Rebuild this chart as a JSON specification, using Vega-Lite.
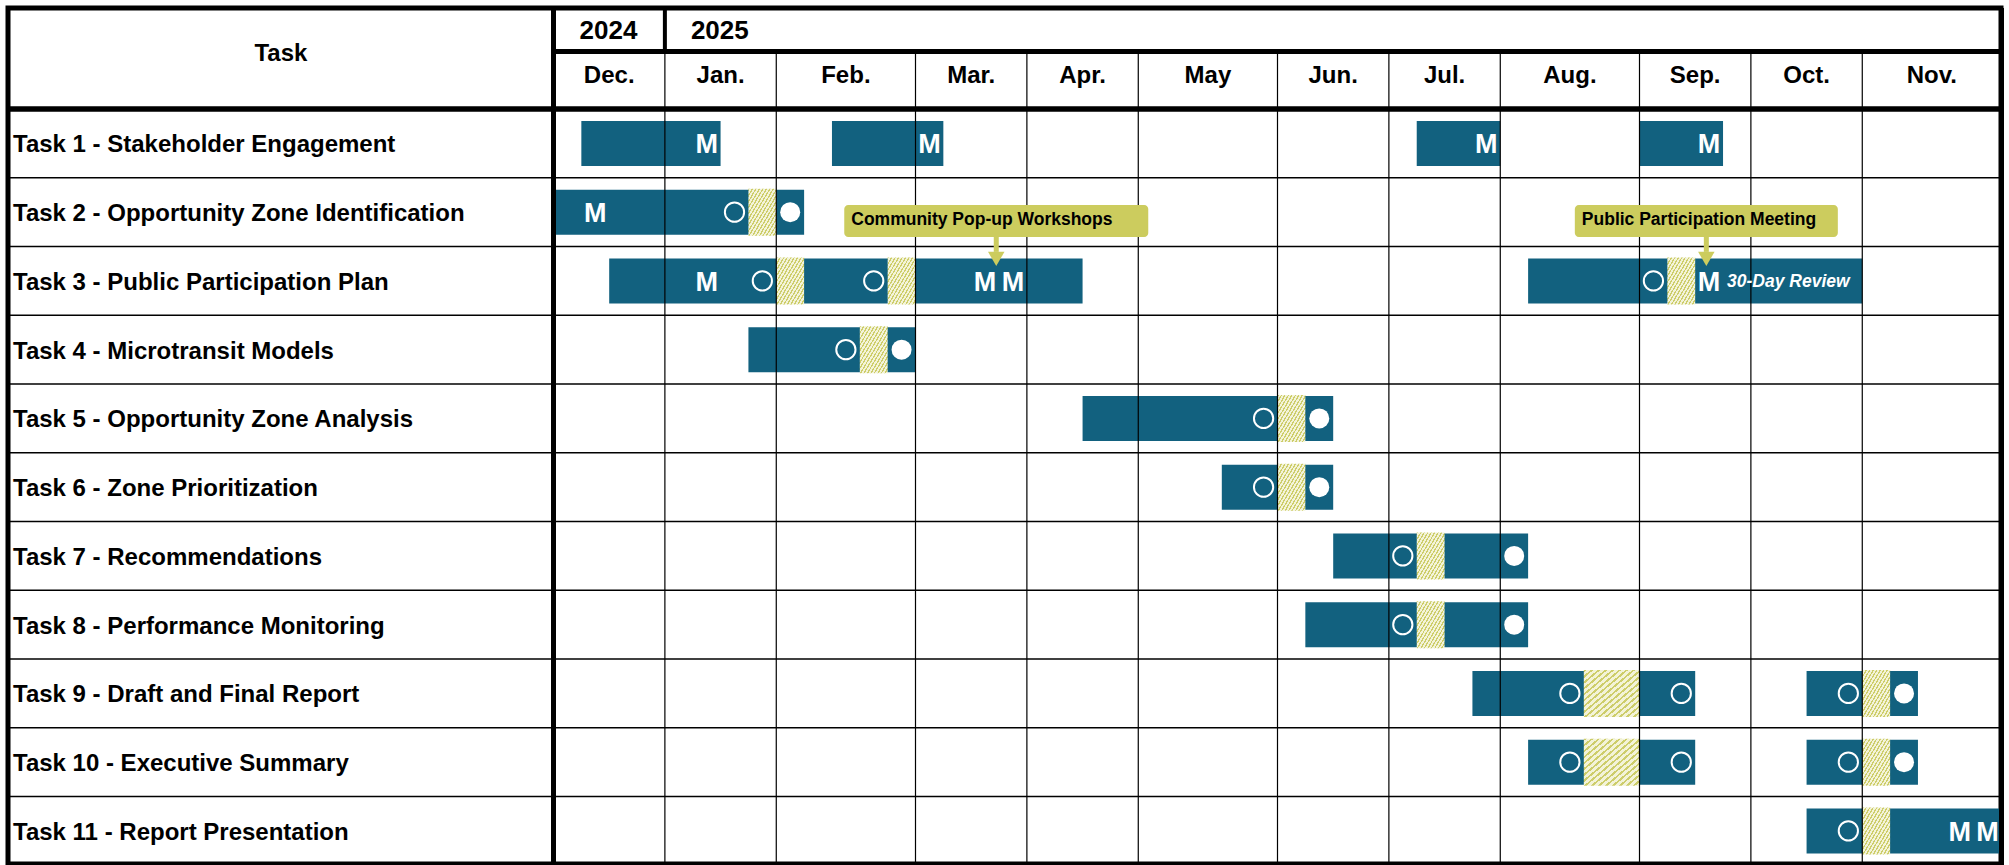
{
  "$schema": "https://vega.github.io/schema/vega-lite/v6.json",
  "width": 1993,
  "height": 856,
  "autosize": {"type": "none"},
  "padding": {"left": 8, "top": 8, "right": 8, "bottom": 1},
  "background": "white",
  "config": {
    "view": {"stroke": "#000000", "strokeWidth": 5, "fill": "white"},
    "text": {"font": "Liberation Sans, Arial, sans-serif"}
  },
  "datasets": {
    "tasks": [
      {"i": 1, "task": "Task 1 - Stakeholder Engagement"},
      {"i": 2, "task": "Task 2 - Opportunity Zone Identification"},
      {"i": 3, "task": "Task 3 - Public Participation Plan"},
      {"i": 4, "task": "Task 4 - Microtransit Models"},
      {"i": 5, "task": "Task 5 - Opportunity Zone Analysis"},
      {"i": 6, "task": "Task 6 - Zone Prioritization"},
      {"i": 7, "task": "Task 7 - Recommendations"},
      {"i": 8, "task": "Task 8 - Performance Monitoring"},
      {"i": 9, "task": "Task 9 - Draft and Final Report"},
      {"i": 10, "task": "Task 10 - Executive Summary"},
      {"i": 11, "task": "Task 11 - Report Presentation"}
    ],
    "bars": [
      {"i": 1, "start": 1, "end": 6}, {"i": 1, "start": 10, "end": 14}, {"i": 1, "start": 31, "end": 34}, {"i": 1, "start": 39, "end": 42},
      {"i": 2, "start": 0, "end": 9},
      {"i": 3, "start": 2, "end": 19}, {"i": 3, "start": 35, "end": 47},
      {"i": 4, "start": 7, "end": 13},
      {"i": 5, "start": 19, "end": 28},
      {"i": 6, "start": 24, "end": 28},
      {"i": 7, "start": 28, "end": 35},
      {"i": 8, "start": 27, "end": 35},
      {"i": 9, "start": 33, "end": 41}, {"i": 9, "start": 45, "end": 49},
      {"i": 10, "start": 35, "end": 41}, {"i": 10, "start": 45, "end": 49},
      {"i": 11, "start": 45, "end": 52}
    ],
    "reviews": [
      {"i": 2, "start": 7, "end": 8},
      {"i": 3, "start": 8, "end": 9}, {"i": 3, "start": 12, "end": 13}, {"i": 3, "start": 40, "end": 41},
      {"i": 4, "start": 11, "end": 12},
      {"i": 5, "start": 26, "end": 27},
      {"i": 6, "start": 26, "end": 27},
      {"i": 7, "start": 31, "end": 32},
      {"i": 8, "start": 31, "end": 32},
      {"i": 9, "start": 37, "end": 39}, {"i": 9, "start": 47, "end": 48},
      {"i": 10, "start": 37, "end": 39}, {"i": 10, "start": 47, "end": 48},
      {"i": 11, "start": 47, "end": 48}
    ],
    "milestones": [
      {"i": 1, "week": 5.5, "kind": "M"}, {"i": 1, "week": 13.5, "kind": "M"}, {"i": 1, "week": 33.5, "kind": "M"}, {"i": 1, "week": 41.5, "kind": "M"},
      {"i": 2, "week": 1.5, "kind": "M"}, {"i": 2, "week": 6.5, "kind": "draft"}, {"i": 2, "week": 8.5, "kind": "final"},
      {"i": 3, "week": 5.5, "kind": "M"}, {"i": 3, "week": 7.5, "kind": "draft"}, {"i": 3, "week": 11.5, "kind": "draft"}, {"i": 3, "week": 15.5, "kind": "M"}, {"i": 3, "week": 16.5, "kind": "M"}, {"i": 3, "week": 39.5, "kind": "draft"}, {"i": 3, "week": 41.5, "kind": "M"},
      {"i": 4, "week": 10.5, "kind": "draft"}, {"i": 4, "week": 12.5, "kind": "final"},
      {"i": 5, "week": 25.5, "kind": "draft"}, {"i": 5, "week": 27.5, "kind": "final"},
      {"i": 6, "week": 25.5, "kind": "draft"}, {"i": 6, "week": 27.5, "kind": "final"},
      {"i": 7, "week": 30.5, "kind": "draft"}, {"i": 7, "week": 34.5, "kind": "final"},
      {"i": 8, "week": 30.5, "kind": "draft"}, {"i": 8, "week": 34.5, "kind": "final"},
      {"i": 9, "week": 36.5, "kind": "draft"}, {"i": 9, "week": 40.5, "kind": "draft"}, {"i": 9, "week": 46.5, "kind": "draft"}, {"i": 9, "week": 48.5, "kind": "final"},
      {"i": 10, "week": 36.5, "kind": "draft"}, {"i": 10, "week": 40.5, "kind": "draft"}, {"i": 10, "week": 46.5, "kind": "draft"}, {"i": 10, "week": 48.5, "kind": "final"},
      {"i": 11, "week": 46.5, "kind": "draft"}, {"i": 11, "week": 50.5, "kind": "M"}, {"i": 11, "week": 51.5, "kind": "M"}
    ],
    "notes": [{"i": 3, "week": 42, "note": "30-Day Review"}],
    "callouts": [
      {"i": 3, "target": 15.9, "label": "Community Pop-up Workshops"},
      {"i": 3, "target": 41.4, "label": "Public Participation Meeting"}
    ],
    "months": [
      {"month": "Dec.", "start": 0, "mid": 2},
      {"month": "Jan.", "start": 4, "mid": 6},
      {"month": "Feb.", "start": 8, "mid": 10.5},
      {"month": "Mar.", "start": 13, "mid": 15},
      {"month": "Apr.", "start": 17, "mid": 19},
      {"month": "May", "start": 21, "mid": 23.5},
      {"month": "Jun.", "start": 26, "mid": 28},
      {"month": "Jul.", "start": 30, "mid": 32},
      {"month": "Aug.", "start": 34, "mid": 36.5},
      {"month": "Sep.", "start": 39, "mid": 41},
      {"month": "Oct.", "start": 43, "mid": 45},
      {"month": "Nov.", "start": 47, "mid": 49.5}
    ],
    "years": [{"year": "2024", "start": 0}, {"year": "2025", "start": 4}],
    "header": [{"header": "Task"}],
    "edges": [{"edge": "task column", "week": 0}, {"edge": "right", "week": 52}]
  },
  "layer": [
    {
      "data": {"name": "bars"},
      "mark": {"type": "rect", "color": "#12617F", "yOffset": -22.5, "y2Offset": 22.5},
      "encoding": {
        "x": {"field": "start", "type": "quantitative", "scale": {"domain": [0, 52], "range": [545.5, 1993.5], "nice": false, "zero": false}, "axis": null},
        "x2": {"field": "end"},
        "y": {"field": "i", "type": "quantitative", "scale": {"domain": [0.5, 11.5], "range": [101, 857.25], "nice": false, "zero": false}, "axis": null},
        "y2": {"field": "i"}
      }
    },
    {
      "data": {"name": "reviews"},
      "mark": {
        "type": "rect",
        "yOffset": -23.5,
        "y2Offset": 23.5,
        "color": {
          "gradient": "linear", "x1": 0, "y1": 0, "x2": 1, "y2": 1,
          "stops": [
            {"offset": 0, "color": "#cdcd6a"}, {"offset": 0.025, "color": "#cdcd6a"}, {"offset": 0.025, "color": "#f3f3d8"}, {"offset": 0.0625, "color": "#f3f3d8"},
            {"offset": 0.0625, "color": "#cdcd6a"}, {"offset": 0.0875, "color": "#cdcd6a"}, {"offset": 0.0875, "color": "#f3f3d8"}, {"offset": 0.125, "color": "#f3f3d8"},
            {"offset": 0.125, "color": "#cdcd6a"}, {"offset": 0.15, "color": "#cdcd6a"}, {"offset": 0.15, "color": "#f3f3d8"}, {"offset": 0.1875, "color": "#f3f3d8"},
            {"offset": 0.1875, "color": "#cdcd6a"}, {"offset": 0.2125, "color": "#cdcd6a"}, {"offset": 0.2125, "color": "#f3f3d8"}, {"offset": 0.25, "color": "#f3f3d8"},
            {"offset": 0.25, "color": "#cdcd6a"}, {"offset": 0.275, "color": "#cdcd6a"}, {"offset": 0.275, "color": "#f3f3d8"}, {"offset": 0.3125, "color": "#f3f3d8"},
            {"offset": 0.3125, "color": "#cdcd6a"}, {"offset": 0.3375, "color": "#cdcd6a"}, {"offset": 0.3375, "color": "#f3f3d8"}, {"offset": 0.375, "color": "#f3f3d8"},
            {"offset": 0.375, "color": "#cdcd6a"}, {"offset": 0.4, "color": "#cdcd6a"}, {"offset": 0.4, "color": "#f3f3d8"}, {"offset": 0.4375, "color": "#f3f3d8"},
            {"offset": 0.4375, "color": "#cdcd6a"}, {"offset": 0.4625, "color": "#cdcd6a"}, {"offset": 0.4625, "color": "#f3f3d8"}, {"offset": 0.5, "color": "#f3f3d8"},
            {"offset": 0.5, "color": "#cdcd6a"}, {"offset": 0.525, "color": "#cdcd6a"}, {"offset": 0.525, "color": "#f3f3d8"}, {"offset": 0.5625, "color": "#f3f3d8"},
            {"offset": 0.5625, "color": "#cdcd6a"}, {"offset": 0.5875, "color": "#cdcd6a"}, {"offset": 0.5875, "color": "#f3f3d8"}, {"offset": 0.625, "color": "#f3f3d8"},
            {"offset": 0.625, "color": "#cdcd6a"}, {"offset": 0.65, "color": "#cdcd6a"}, {"offset": 0.65, "color": "#f3f3d8"}, {"offset": 0.6875, "color": "#f3f3d8"},
            {"offset": 0.6875, "color": "#cdcd6a"}, {"offset": 0.7125, "color": "#cdcd6a"}, {"offset": 0.7125, "color": "#f3f3d8"}, {"offset": 0.75, "color": "#f3f3d8"},
            {"offset": 0.75, "color": "#cdcd6a"}, {"offset": 0.775, "color": "#cdcd6a"}, {"offset": 0.775, "color": "#f3f3d8"}, {"offset": 0.8125, "color": "#f3f3d8"},
            {"offset": 0.8125, "color": "#cdcd6a"}, {"offset": 0.8375, "color": "#cdcd6a"}, {"offset": 0.8375, "color": "#f3f3d8"}, {"offset": 0.875, "color": "#f3f3d8"},
            {"offset": 0.875, "color": "#cdcd6a"}, {"offset": 0.9, "color": "#cdcd6a"}, {"offset": 0.9, "color": "#f3f3d8"}, {"offset": 0.9375, "color": "#f3f3d8"},
            {"offset": 0.9375, "color": "#cdcd6a"}, {"offset": 0.9625, "color": "#cdcd6a"}, {"offset": 0.9625, "color": "#f3f3d8"}, {"offset": 1, "color": "#f3f3d8"}
          ]
        }
      },
      "encoding": {
        "x": {"field": "start", "type": "quantitative", "scale": {"domain": [0, 52], "range": [545.5, 1993.5], "nice": false, "zero": false}, "axis": null},
        "x2": {"field": "end"},
        "y": {"field": "i", "type": "quantitative", "scale": {"domain": [0.5, 11.5], "range": [101, 857.25], "nice": false, "zero": false}, "axis": null},
        "y2": {"field": "i"}
      }
    },
    {
      "data": {"name": "months"},
      "transform": [{"filter": "datum.start > 0"}],
      "mark": {"type": "rule", "color": "#000000", "strokeWidth": 1.2},
      "encoding": {
        "x": {"field": "start", "type": "quantitative", "scale": {"domain": [0, 52], "range": [545.5, 1993.5], "nice": false, "zero": false}, "axis": null},
        "y": {"datum": -0.3364, "type": "quantitative", "scale": {"domain": [0.5, 11.5], "range": [101, 857.25], "nice": false, "zero": false}, "axis": null},
        "y2": {"datum": 11.5}
      }
    },
    {
      "data": {"name": "tasks"},
      "mark": {"type": "rule", "color": "#000000", "strokeWidth": 1.6, "yOffset": 34.375},
      "encoding": {
        "x": {"datum": -19.6, "type": "quantitative", "scale": {"domain": [0, 52], "range": [545.5, 1993.5], "nice": false, "zero": false}, "axis": null},
        "x2": {"datum": 52},
        "y": {"field": "i", "type": "quantitative", "scale": {"domain": [0.5, 11.5], "range": [101, 857.25], "nice": false, "zero": false}, "axis": null}
      }
    },
    {
      "data": {"name": "milestones"},
      "transform": [{"filter": "datum.kind === 'draft'"}],
      "mark": {"type": "point", "shape": "circle", "filled": false, "stroke": "white", "strokeWidth": 2, "size": 370, "opacity": 1},
      "encoding": {
        "x": {"field": "week", "type": "quantitative", "scale": {"domain": [0, 52], "range": [545.5, 1993.5], "nice": false, "zero": false}, "axis": null},
        "y": {"field": "i", "type": "quantitative", "scale": {"domain": [0.5, 11.5], "range": [101, 857.25], "nice": false, "zero": false}, "axis": null}
      }
    },
    {
      "data": {"name": "milestones"},
      "transform": [{"filter": "datum.kind === 'final'"}],
      "mark": {"type": "point", "shape": "circle", "filled": true, "color": "white", "size": 400, "opacity": 1},
      "encoding": {
        "x": {"field": "week", "type": "quantitative", "scale": {"domain": [0, 52], "range": [545.5, 1993.5], "nice": false, "zero": false}, "axis": null},
        "y": {"field": "i", "type": "quantitative", "scale": {"domain": [0.5, 11.5], "range": [101, 857.25], "nice": false, "zero": false}, "axis": null}
      }
    },
    {
      "data": {"name": "milestones"},
      "transform": [{"filter": "datum.kind === 'M'"}],
      "mark": {"type": "text", "color": "white", "fontSize": 27, "fontWeight": "bold", "align": "center", "baseline": "middle", "dy": 2},
      "encoding": {
        "x": {"field": "week", "type": "quantitative", "scale": {"domain": [0, 52], "range": [545.5, 1993.5], "nice": false, "zero": false}, "axis": null},
        "y": {"field": "i", "type": "quantitative", "scale": {"domain": [0.5, 11.5], "range": [101, 857.25], "nice": false, "zero": false}, "axis": null},
        "text": {"field": "kind"}
      }
    },
    {
      "data": {"name": "notes"},
      "mark": {"type": "text", "color": "white", "fontSize": 17.5, "fontWeight": "bold", "fontStyle": "italic", "align": "left", "baseline": "middle", "dx": 4, "dy": 1},
      "encoding": {
        "x": {"field": "week", "type": "quantitative", "scale": {"domain": [0, 52], "range": [545.5, 1993.5], "nice": false, "zero": false}, "axis": null},
        "y": {"field": "i", "type": "quantitative", "scale": {"domain": [0.5, 11.5], "range": [101, 857.25], "nice": false, "zero": false}, "axis": null},
        "text": {"field": "note"}
      }
    },
    {
      "data": {"name": "callouts"},
      "transform": [{"filter": "datum.label === 'Community Pop-up Workshops'"}],
      "mark": {"type": "rect", "color": "#CCCC5E", "cornerRadius": 4, "xOffset": -152, "x2Offset": 152, "yOffset": -76, "y2Offset": -44},
      "encoding": {
        "x": {"field": "target", "type": "quantitative", "scale": {"domain": [0, 52], "range": [545.5, 1993.5], "nice": false, "zero": false}, "axis": null},
        "x2": {"field": "target"},
        "y": {"field": "i", "type": "quantitative", "scale": {"domain": [0.5, 11.5], "range": [101, 857.25], "nice": false, "zero": false}, "axis": null},
        "y2": {"field": "i"}
      }
    },
    {
      "data": {"name": "callouts"},
      "transform": [{"filter": "datum.label === 'Public Participation Meeting'"}],
      "mark": {"type": "rect", "color": "#CCCC5E", "cornerRadius": 4, "xOffset": -131.5, "x2Offset": 131.5, "yOffset": -76, "y2Offset": -44},
      "encoding": {
        "x": {"field": "target", "type": "quantitative", "scale": {"domain": [0, 52], "range": [545.5, 1993.5], "nice": false, "zero": false}, "axis": null},
        "x2": {"field": "target"},
        "y": {"field": "i", "type": "quantitative", "scale": {"domain": [0.5, 11.5], "range": [101, 857.25], "nice": false, "zero": false}, "axis": null},
        "y2": {"field": "i"}
      }
    },
    {
      "data": {"name": "callouts"},
      "transform": [{"filter": "datum.label === 'Community Pop-up Workshops'"}],
      "mark": {"type": "text", "color": "#000000", "fontSize": 17.5, "fontWeight": "bold", "align": "left", "baseline": "middle", "dx": -145, "dy": -61},
      "encoding": {
        "x": {"field": "target", "type": "quantitative", "scale": {"domain": [0, 52], "range": [545.5, 1993.5], "nice": false, "zero": false}, "axis": null},
        "y": {"field": "i", "type": "quantitative", "scale": {"domain": [0.5, 11.5], "range": [101, 857.25], "nice": false, "zero": false}, "axis": null},
        "text": {"field": "label"}
      }
    },
    {
      "data": {"name": "callouts"},
      "transform": [{"filter": "datum.label === 'Public Participation Meeting'"}],
      "mark": {"type": "text", "color": "#000000", "fontSize": 17.5, "fontWeight": "bold", "align": "left", "baseline": "middle", "dx": -124.5, "dy": -61},
      "encoding": {
        "x": {"field": "target", "type": "quantitative", "scale": {"domain": [0, 52], "range": [545.5, 1993.5], "nice": false, "zero": false}, "axis": null},
        "y": {"field": "i", "type": "quantitative", "scale": {"domain": [0.5, 11.5], "range": [101, 857.25], "nice": false, "zero": false}, "axis": null},
        "text": {"field": "label"}
      }
    },
    {
      "data": {"name": "callouts"},
      "mark": {"type": "rule", "color": "#CCCC5E", "strokeWidth": 5, "yOffset": -44, "y2Offset": -29},
      "encoding": {
        "x": {"field": "target", "type": "quantitative", "scale": {"domain": [0, 52], "range": [545.5, 1993.5], "nice": false, "zero": false}, "axis": null},
        "y": {"field": "i", "type": "quantitative", "scale": {"domain": [0.5, 11.5], "range": [101, 857.25], "nice": false, "zero": false}, "axis": null},
        "y2": {"field": "i"}
      }
    },
    {
      "data": {"name": "callouts"},
      "mark": {"type": "point", "shape": "triangle-down", "filled": true, "color": "#CCCC5E", "size": 272, "opacity": 1, "yOffset": -22},
      "encoding": {
        "x": {"field": "target", "type": "quantitative", "scale": {"domain": [0, 52], "range": [545.5, 1993.5], "nice": false, "zero": false}, "axis": null},
        "y": {"field": "i", "type": "quantitative", "scale": {"domain": [0.5, 11.5], "range": [101, 857.25], "nice": false, "zero": false}, "axis": null}
      }
    },
    {
      "data": {"name": "tasks"},
      "mark": {"type": "text", "color": "#000000", "fontSize": 24, "fontWeight": "bold", "align": "left", "baseline": "middle", "dy": 2},
      "encoding": {
        "x": {"datum": -19.41, "type": "quantitative", "scale": {"domain": [0, 52], "range": [545.5, 1993.5], "nice": false, "zero": false}, "axis": null},
        "y": {"field": "i", "type": "quantitative", "scale": {"domain": [0.5, 11.5], "range": [101, 857.25], "nice": false, "zero": false}, "axis": null},
        "text": {"field": "task"}
      }
    },
    {
      "data": {"name": "header"},
      "mark": {"type": "text", "color": "#000000", "fontSize": 24, "fontWeight": "bold", "align": "center", "baseline": "middle"},
      "encoding": {
        "x": {"datum": -9.79, "type": "quantitative", "scale": {"domain": [0, 52], "range": [545.5, 1993.5], "nice": false, "zero": false}, "axis": null},
        "y": {"datum": -0.301, "type": "quantitative", "scale": {"domain": [0.5, 11.5], "range": [101, 857.25], "nice": false, "zero": false}, "axis": null},
        "text": {"field": "header"}
      }
    },
    {
      "data": {"name": "years"},
      "mark": {"type": "text", "color": "#000000", "fontSize": 26, "fontWeight": "bold", "align": "left", "baseline": "middle", "dx": 26},
      "encoding": {
        "x": {"field": "start", "type": "quantitative", "scale": {"domain": [0, 52], "range": [545.5, 1993.5], "nice": false, "zero": false}, "axis": null},
        "y": {"datum": -0.64, "type": "quantitative", "scale": {"domain": [0.5, 11.5], "range": [101, 857.25], "nice": false, "zero": false}, "axis": null},
        "text": {"field": "year"}
      }
    },
    {
      "data": {"name": "months"},
      "mark": {"type": "text", "color": "#000000", "fontSize": 24, "fontWeight": "bold", "align": "center", "baseline": "middle", "dy": 1},
      "encoding": {
        "x": {"field": "mid", "type": "quantitative", "scale": {"domain": [0, 52], "range": [545.5, 1993.5], "nice": false, "zero": false}, "axis": null},
        "y": {"datum": 0, "type": "quantitative", "scale": {"domain": [0.5, 11.5], "range": [101, 857.25], "nice": false, "zero": false}, "axis": null},
        "text": {"field": "month"}
      }
    },
    {
      "data": {"name": "years"},
      "transform": [{"filter": "datum.start > 0"}],
      "mark": {"type": "rule", "color": "#000000", "strokeWidth": 4},
      "encoding": {
        "x": {"field": "start", "type": "quantitative", "scale": {"domain": [0, 52], "range": [545.5, 1993.5], "nice": false, "zero": false}, "axis": null},
        "y": {"datum": -0.97, "type": "quantitative", "scale": {"domain": [0.5, 11.5], "range": [101, 857.25], "nice": false, "zero": false}, "axis": null},
        "y2": {"datum": -0.3364}
      }
    },
    {
      "data": {"values": [{"edge": "header bottom"}]},
      "mark": {"type": "rule", "color": "#000000", "strokeWidth": 5.5},
      "encoding": {
        "x": {"datum": -19.6, "type": "quantitative", "scale": {"domain": [0, 52], "range": [545.5, 1993.5], "nice": false, "zero": false}, "axis": null},
        "x2": {"datum": 52},
        "y": {"datum": 0.5, "type": "quantitative", "scale": {"domain": [0.5, 11.5], "range": [101, 857.25], "nice": false, "zero": false}, "axis": null}
      }
    },
    {
      "data": {"values": [{"edge": "year-month divider"}]},
      "mark": {"type": "rule", "color": "#000000", "strokeWidth": 5},
      "encoding": {
        "x": {"datum": 0, "type": "quantitative", "scale": {"domain": [0, 52], "range": [545.5, 1993.5], "nice": false, "zero": false}, "axis": null},
        "x2": {"datum": 52},
        "y": {"datum": -0.3364, "type": "quantitative", "scale": {"domain": [0.5, 11.5], "range": [101, 857.25], "nice": false, "zero": false}, "axis": null}
      }
    },
    {
      "data": {"name": "edges"},
      "mark": {"type": "rule", "color": "#000000", "strokeWidth": 5},
      "encoding": {
        "x": {"field": "week", "type": "quantitative", "scale": {"domain": [0, 52], "range": [545.5, 1993.5], "nice": false, "zero": false}, "axis": null},
        "y": {"datum": -0.97, "type": "quantitative", "scale": {"domain": [0.5, 11.5], "range": [101, 857.25], "nice": false, "zero": false}, "axis": null},
        "y2": {"datum": 11.5}
      }
    }
  ]
}
